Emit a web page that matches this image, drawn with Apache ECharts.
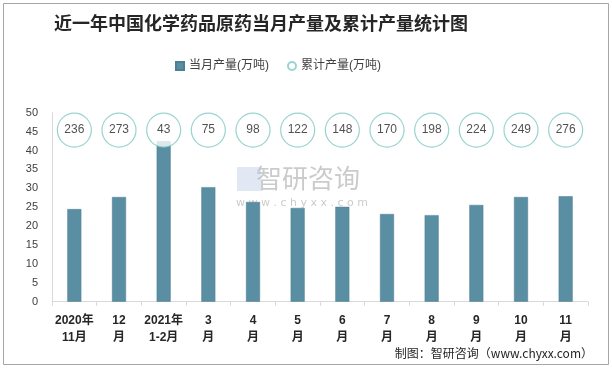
<!DOCTYPE html>
<html><head><meta charset="utf-8">
<script src="https://cdn.jsdelivr.net/npm/echarts@6/dist/echarts.min.js"></script>
<style>html,body{margin:0;padding:0;background:#fff}#c{width:612px;height:369px}</style>
</head><body><div id="c"></div>
<script>
var categories = ['2020年\n11月','12\n月','2021年\n1-2月','3\n月','4\n月','5\n月','6\n月','7\n月','8\n月','9\n月','10\n月','11\n月'];
var monthly = [24.5, 27.7, 42.5, 30.3, 26.4, 24.8, 25.1, 23.2, 22.9, 25.6, 27.7, 27.9];
var cumulative = [236, 273, 43, 75, 98, 122, 148, 170, 198, 224, 249, 276];
var markerLevel = 45.4;
var yTicks = [0,5,10,15,20,25,30,35,40,45,50];

var chart = echarts.init(document.getElementById('c'), null, {renderer:'canvas'});
var font = 'Liberation Sans, Noto Sans CJK SC, sans-serif';
chart.setOption({
  animation: false,
  backgroundColor: '#fff',
  graphic: [
    {type:'rect', shape:{x:3.5,y:3.5,width:605,height:361}, style:{fill:'none',stroke:'#a6a6a6',lineWidth:1}, z:-1},
    {type:'text', left:'center', top:2, x:0, style:{}, invisible:true},
    {type:'text', x:261, y:14, style:{text:'近一年中国化学药品原药当月产量及累计产量统计图', font:'bold 18px "Noto Sans CJK SC", serif', fill:'#262626', textAlign:'center'}},
    {type:'text', x:256, y:165, style:{text:'智研咨询', font:'26px "Noto Sans CJK SC", sans-serif', fill:'rgba(160,160,160,0.55)', textAlign:'left'}, z:0},
    {type:'text', x:236, y:198, style:{text:'w w w . c h y x x . c o m', font:'11px "DejaVu Sans", sans-serif', fill:'rgba(160,160,160,0.55)', textAlign:'left'}, z:0},
    {type:'rect', shape:{x:237,y:167,width:24,height:24}, style:{fill:'rgba(170,190,220,0.35)'}, z:0},
    {type:'text', x:593, y:347, style:{text:'制图：智研咨询（www.chyxx.com）', font:'12px "Noto Sans CJK SC", monospace', fill:'#262626', textAlign:'right'}}
  ],
  legend: {
    left: 170, top: 55,
    itemWidth: 8, itemHeight: 8, itemGap: 18,
    textStyle: {fontSize: 12, color: '#404040', fontFamily: font},
    data: [
      {name:'当月产量(万吨)', icon:'rect'},
      {name:'累计产量(万吨)', icon:'circle'}
    ]
  },
  grid: {left: 52, right: 24, top: 112.7, bottom: 67.3, containLabel: false},
  xAxis: {
    type: 'category', data: categories,
    axisLine: {lineStyle: {color: '#d9d9d9'}},
    axisTick: {show: true, length: 4, lineStyle: {color: '#d9d9d9'}},
    axisLabel: {color: '#262626', fontSize: 12, fontWeight: 'bold', lineHeight: 17, margin: 10, fontFamily: font, interval: 0}
  },
  yAxis: {
    type: 'value', min: 0, max: 50, interval: 5,
    axisLine: {show: true, lineStyle: {color: '#d9d9d9'}},
    axisTick: {show: false},
    splitLine: {show: false},
    axisLabel: {color: '#404040', fontSize: 11, margin: 14, fontFamily: font,
      formatter: function(v){ return yTicks.indexOf(v) >= 0 ? String(v) : ''; }}
  },
  series: [
    {
      name: '当月产量(万吨)', type: 'bar', data: monthly, barWidth: 14,
      itemStyle: {color: '#5a8ea2', borderColor: '#4d7f94', borderWidth: 0.5}
    },
    {
      name: '累计产量(万吨)', type: 'scatter',
      data: cumulative.map(function(v){ return markerLevel; }),
      symbol: 'circle', symbolSize: 34,
      itemStyle: {color: '#fff', borderColor: '#7fcbc4', borderWidth: 1.2},
      label: {show: true, position: 'inside', color: '#262626', fontSize: 12, fontFamily: font,
        formatter: function(p){ return String(cumulative[p.dataIndex]); }},
      z: 3
    }
  ]
});
</script></body></html>
